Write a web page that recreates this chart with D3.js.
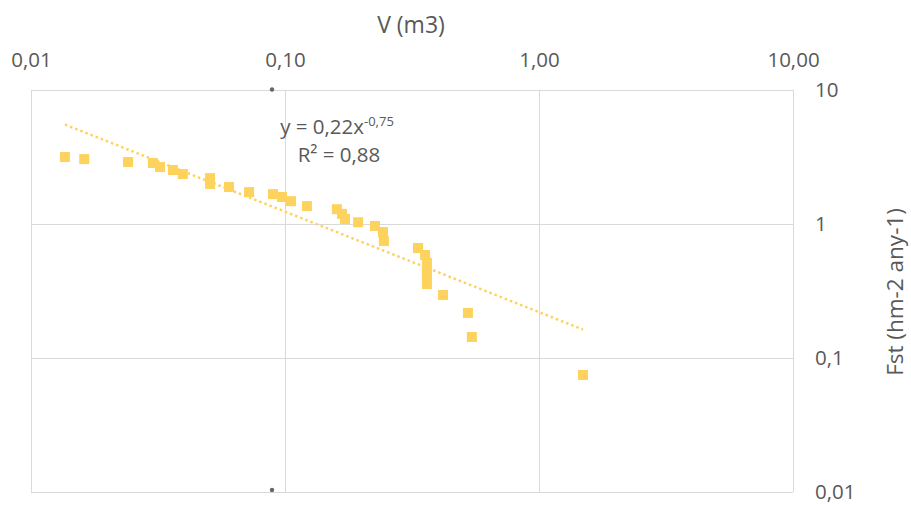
<!DOCTYPE html>
<html>
<head>
<meta charset="utf-8">
<script src="https://cdn.jsdelivr.net/npm/d3@7"></script>
<style>
  html, body { margin: 0; padding: 0; background: #fff; }
  svg { display: block; }
  text { font-family: "Open Sans", sans-serif; fill: #595959; }
</style>
</head>
<body>
<svg id="chart" width="911" height="505"></svg>
<script>
// ---- data ----
const volumeM3 = [0.0136, 0.0162, 0.0241, 0.0302, 0.0322, 0.0362, 0.0396, 0.0507, 0.0507, 0.0602,
                  0.0722, 0.0897, 0.0973, 0.1056, 0.122, 0.160, 0.1676, 0.1722, 0.194, 0.226,
                  0.243, 0.245, 0.334, 0.356, 0.362, 0.362, 0.362, 0.362, 0.419, 0.525, 0.544, 1.49];
const fst      = [3.16, 3.05, 2.90, 2.85, 2.66, 2.53, 2.36, 2.20, 1.99, 1.89,
                  1.73, 1.67, 1.59, 1.48, 1.36, 1.29, 1.19, 1.09, 1.03, 0.967,
                  0.871, 0.746, 0.662, 0.587, 0.512, 0.454, 0.402, 0.356, 0.295, 0.217, 0.1435, 0.0747];
const xTicks = [0.01, 0.1, 1, 10];
const xTickLabels = ["0,01", "0,10", "1,00", "10,00"];
const yTicks = [10, 1, 0.1, 0.01];
const yTickLabels = ["10", "1", "0,1", "0,01"];
const trendCoef = 0.22, trendExp = -0.75;
const eqLabel = "y = 0,22x", eqExpLabel = "-0,75", r2Label = "R² = 0,88";
const xTitle = "V (m3)", yTitle = "Fst (hm-2 any-1)";

// ---- layout ----
const svg = d3.select("#chart");
const L = 31, R = 793, T = 90, B = 492;
const x = d3.scaleLog().domain([0.01, 10]).range([L, R]);
const y = d3.scaleLog().domain([0.01, 10]).range([B, T]);
const gridColor = "#d9d9d9";
const markColor = "#FDD35E";

// gridlines
svg.append("g").attr("transform", `translate(0,${B})`)
  .call(d3.axisTop(x).tickValues(xTicks).tickSize(B - T).tickFormat(""))
  .call(g => g.select(".domain").remove())
  .call(g => g.selectAll("line").attr("stroke", gridColor));
svg.append("g").attr("transform", `translate(${R},0)`)
  .call(d3.axisLeft(y).tickValues(yTicks).tickSize(R - L).tickFormat(""))
  .call(g => g.select(".domain").remove())
  .call(g => g.selectAll("line").attr("stroke", gridColor));

// top x axis labels
svg.append("g").attr("transform", `translate(0,${T - 23})`)
  .call(d3.axisTop(x).tickValues(xTicks).tickSize(0).tickPadding(0)
        .tickFormat((d, i) => xTickLabels[i]))
  .call(g => g.select(".domain").remove())
  .call(g => g.selectAll("text").style("font-size", "20.5px").attr("fill", "#595959")
        .attr("font-family", "Open Sans, sans-serif"));

// right y axis labels
svg.append("g").attr("transform", `translate(${R + 22},0)`)
  .call(d3.axisRight(y).tickValues(yTicks).tickSize(0).tickPadding(0)
        .tickFormat((d, i) => yTickLabels[i]))
  .call(g => g.select(".domain").remove())
  .call(g => g.selectAll("text").style("font-size", "20.5px").attr("fill", "#595959")
        .attr("font-family", "Open Sans, sans-serif"));

// small axis-crossing dots
const dotX = 272;
svg.append("circle").attr("cx", dotX).attr("cy", T - 0.5).attr("r", 2.2).attr("fill", "#666");
svg.append("circle").attr("cx", dotX).attr("cy", B - 2).attr("r", 2.2).attr("fill", "#666");

// titles
svg.append("text").attr("x", 411).attr("y", 33).attr("text-anchor", "middle")
  .style("font-size", "23px").text(xTitle);
svg.append("text").attr("transform", "translate(903,292) rotate(-90)").attr("text-anchor", "middle")
  .style("font-size", "22.5px").text(yTitle);

// trendline (power fit, straight in log-log)
const xmin = d3.min(volumeM3), xmax = d3.max(volumeM3);
const trendPts = [xmin, xmax].map(v => [x(v), y(trendCoef * Math.pow(v, trendExp))]);
svg.append("path").attr("d", d3.line()(trendPts))
  .attr("fill", "none").attr("stroke", markColor).attr("stroke-width", 2.5)
  .attr("stroke-dasharray", "2.5 3");

// markers
const s = 10;
svg.append("g").selectAll("rect").data(volumeM3.map((v, i) => [v, fst[i]])).join("rect")
  .attr("x", d => x(d[0]) - s / 2).attr("y", d => y(d[1]) - s / 2)
  .attr("width", s).attr("height", s).attr("fill", markColor);

// equation label
const eq = svg.append("text").attr("x", 337).attr("y", 134).attr("text-anchor", "middle")
  .style("font-size", "20.5px");
eq.append("tspan").text(eqLabel);
eq.append("tspan").attr("dy", -8).style("font-size", "13px").text(eqExpLabel);
svg.append("text").attr("x", 339).attr("y", 162).attr("text-anchor", "middle")
  .style("font-size", "20.5px").text(r2Label);
</script>
</body>
</html>
